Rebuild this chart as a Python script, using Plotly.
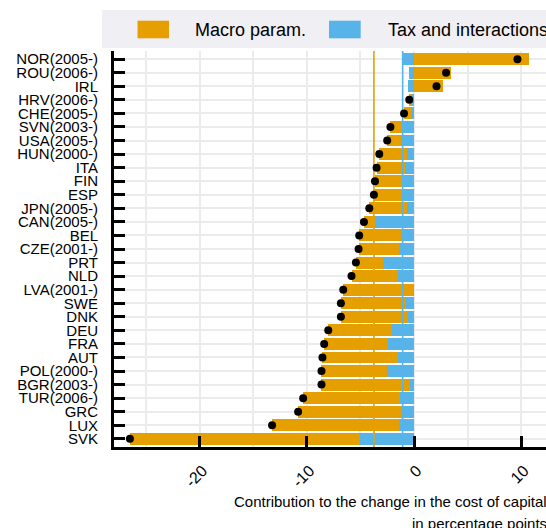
import plotly.graph_objects as go

# Countries, top to bottom
countries = ["NOR(2005-)", "ROU(2006-)", "IRL", "HRV(2006-)", "CHE(2005-)",
             "SVN(2003-)", "USA(2005-)", "HUN(2000-)", "ITA", "FIN", "ESP",
             "JPN(2005-)", "CAN(2005-)", "BEL", "CZE(2001-)", "PRT", "NLD",
             "LVA(2001-)", "SWE", "DNK", "DEU", "FRA", "AUT", "POL(2000-)",
             "BGR(2003-)", "TUR(2006-)", "GRC", "LUX", "SVK"]

# Contributions in percentage points
macro = [10.75, 3.43, 2.66, -0.28, -0.65, -1.27, -1.25, -2.61, -2.65, -2.74,
         -2.62, -3.52, -1.06, -3.93, -3.80, -2.55, -4.30, -6.50, -6.04, -6.26,
         -5.98, -5.95, -7.01, -6.14, -8.26, -9.06, -9.81, -11.87, -21.42]
tax = [-1.10, -0.44, -0.56, -0.16, -0.28, -0.93, -1.25, -0.63, -0.84, -0.90,
       -1.12, -0.65, -3.61, -1.18, -1.37, -2.87, -1.53, -0.10, -0.78, -0.56,
       -2.02, -2.43, -1.53, -2.49, -0.37, -1.28, -1.00, -1.37, -5.08]
total = [9.65, 2.99, 2.10, -0.44, -0.93, -2.20, -2.50, -3.24, -3.49, -3.64,
         -3.74, -4.17, -4.67, -5.11, -5.17, -5.42, -5.83, -6.60, -6.82, -6.82,
         -8.00, -8.38, -8.54, -8.63, -8.63, -10.34, -10.81, -13.24, -26.50]

# Reference levels of each component
macro_ref = -3.74
tax_ref = -1.06

x_ticks = [-20, -10, 0, 10]
x_tick_labels = ["-20", "-10", "0", "10"]

ORANGE = "#E69F00"
BLUE = "#56B4E9"
FONT = "Liberation Sans, Arial, sans-serif"

W, H = 546, 528
L, R, T, B = 114, 0, 51, 81
PW, PH = W - L - R, H - T - B


def px_x(px):
    return (px - L) / PW


def px_y(py):
    return 1 - (py - T) / PH


pos = list(range(len(countries)))
n = len(countries)

fig = go.Figure()
fig.add_trace(go.Bar(y=pos, x=tax, orientation="h", marker_color=BLUE,
                     marker_line_width=0, width=0.88, showlegend=False,
                     name="Tax and interactions"))
fig.add_trace(go.Bar(y=pos, x=macro, orientation="h", marker_color=ORANGE,
                     marker_line_width=0, width=0.88, showlegend=False,
                     name="Macro param."))

# Reference lines across the panel
y_span = [-0.6, n - 1 + 0.6]
fig.add_trace(go.Scatter(x=[macro_ref, macro_ref], y=y_span, mode="lines",
                         line=dict(color=ORANGE, width=1.6), showlegend=False,
                         hoverinfo="skip"))
fig.add_trace(go.Scatter(x=[tax_ref, tax_ref], y=y_span, mode="lines",
                         line=dict(color=BLUE, width=1.6), showlegend=False,
                         hoverinfo="skip"))

# Total change
fig.add_trace(go.Scatter(x=total, y=pos, mode="markers",
                         marker=dict(color="black", size=8), showlegend=False,
                         name="Total"))

x_left = (L - 414) / 10.72
x_right = (W - R - 414) / 10.72

fig.update_layout(
    width=W, height=H,
    margin=dict(l=L, r=R, t=T, b=B, pad=0),
    barmode="relative", bargap=0,
    plot_bgcolor="white", paper_bgcolor="white",
    font=dict(family=FONT, color="black", size=15),
    xaxis=dict(range=[x_left, x_right], tickvals=x_ticks,
               ticktext=x_tick_labels, tickangle=-45,
               ticks="inside", ticklen=11, tickwidth=3, tickcolor="black",
               showline=True, linewidth=3, linecolor="black",
               showgrid=True, gridcolor="#EBEBEB", gridwidth=1.5,
               minor=dict(dtick=5, tick0=0, showgrid=True,
                          gridcolor="#EBEBEB", gridwidth=1.5, ticks=""),
               zeroline=False, tickfont=dict(size=16, family=FONT),
               ticklabelstandoff=5, ticklabelshift=3),
    yaxis=dict(range=[n - 1 + 0.6, -0.6], tickvals=pos, ticktext=countries,
               ticks="inside", ticklen=11, tickwidth=3, tickcolor="black",
               showline=True, linewidth=3, linecolor="black",
               showgrid=True, gridcolor="#EBEBEB", gridwidth=1.5,
               zeroline=False, tickfont=dict(size=15, family=FONT),
               ticklabelstandoff=10),
)

# Legend panel
shapes = [
    dict(type="rect", xref="paper", yref="paper", x0=px_x(102), x1=px_x(620),
         y0=px_y(48), y1=px_y(10), fillcolor="#F0EFF3", line_width=0,
         layer="below"),
    dict(type="rect", xref="paper", yref="paper", x0=px_x(137.5), x1=px_x(169),
         y0=px_y(38.3), y1=px_y(20.7), fillcolor=ORANGE, line_width=0),
    dict(type="rect", xref="paper", yref="paper", x0=px_x(329), x1=px_x(360.7),
         y0=px_y(38.3), y1=px_y(20.7), fillcolor=BLUE, line_width=0),
]
fig.update_layout(shapes=shapes)

annotations = [
    dict(text="Macro param.", xref="paper", yref="paper", x=px_x(193),
         y=px_y(29.5), xanchor="left", yanchor="middle", showarrow=False,
         font=dict(size=18, family=FONT)),
    dict(text="Tax and interactions", xref="paper", yref="paper",
         x=px_x(385.7), y=px_y(29.5), xanchor="left", yanchor="middle",
         showarrow=False, font=dict(size=18, family=FONT)),
    dict(text="Contribution to the change in the cost of capital",
         xref="paper", yref="paper", x=px_x(549), y=px_y(501.5),
         xanchor="right", yanchor="middle", showarrow=False,
         font=dict(size=15, family=FONT)),
    dict(text="in percentage points",
         xref="paper", yref="paper", x=px_x(549), y=px_y(523),
         xanchor="right", yanchor="middle", showarrow=False,
         font=dict(size=15, family=FONT)),
]
fig.update_layout(annotations=annotations)

fig.write_html("out.html")
